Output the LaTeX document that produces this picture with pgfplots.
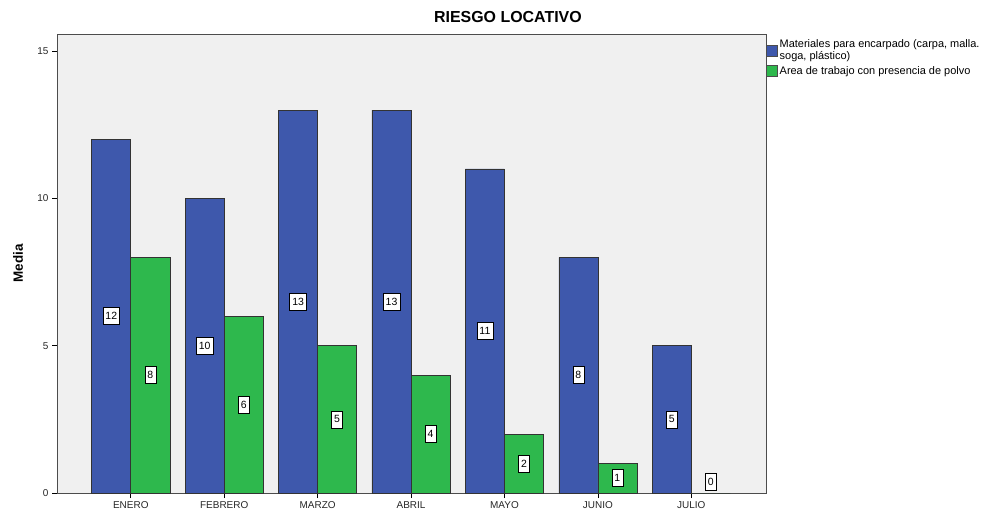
\documentclass[border=0pt]{standalone}
\usepackage{pgfplots}
\pgfplotsset{compat=1.18}
\usepackage{pgfplotstable}
\usepackage{fontspec}
\setmainfont{Liberation Sans}
\definecolor{cblue}{RGB}{62,88,172}
\definecolor{cgreen}{RGB}{46,184,77}
\definecolor{bg}{RGB}{240,240,240}

\pgfplotstableread{
x a b
0 12 8
1 10 6
2 13 5
3 13 4
4 11 2
5 8 1
6 5 0
}\data

\begin{document}
\begin{tikzpicture}
\useasboundingbox (0,0) rectangle (990bp,512bp);
\begin{axis}[
  at={(57bp,19bp)}, anchor=south west,
  scale only axis, width=709bp, height=459bp,
  xmin=-0.79, xmax=6.8, ymin=0, ymax=15.58,
  axis background/.style={fill=bg},
  axis line style={draw=black!70, line width=0.8bp},
  xtick={0,...,6},
  xticklabels={ENERO,FEBRERO,MARZO,ABRIL,MAYO,JUNIO,JULIO},
  ytick={0,5,10,15},
  xtick pos=bottom, ytick pos=left,
  tick align=outside, major tick length=5bp,
  tick style={draw=black, line width=0.6bp},
  /pgf/number format/assume math mode=true,
  tick label style={font=\fontsize{10}{11}\selectfont, text=black!85},
  ylabel={Media},
  ylabel style={font=\fontsize{13.5}{15}\selectfont\bfseries, at={(axis description cs:-0.055,0.5)}, anchor=center, rotate=0},
  title={RIESGO LOCATIVO},
  title style={font=\fontsize{16}{18}\selectfont\bfseries, at={(axis description cs:0.636,1.024)}, anchor=center},
  legend style={at={(axis description cs:1.0,0.992)}, anchor=north west, draw=none, fill=none,
    font=\fontsize{11}{11.5}\selectfont, cells={anchor=west, align=left}, inner sep=0pt,
    row sep=1.5bp},
  legend image code/.code={\draw[#1, draw=black!70, line width=0.5bp] (0bp,-5.5bp) rectangle (11bp,5.5bp);},
  clip=false,
]
\addplot[ybar, bar width=0.418, bar shift=-0.209, fill=cblue, draw=black!80, line width=0.6bp] table[x=x, y=a] {\data};
\addlegendentry{Materiales para encarpado (carpa, malla.\\soga, plástico)}
\addplot[ybar, bar width=0.418, bar shift=0.209, fill=cgreen, draw=black!80, line width=0.6bp] table[x=x, y=b] {\data};
\addlegendentry{Area de trabajo con presencia de polvo}
\addplot[draw=none, mark=none, forget plot, nodes near coords, point meta=explicit,
  nodes near coords align=center,
  every node near coord/.append style={draw=black, fill=white, inner sep=2.6bp, minimum height=17bp, line width=0.6bp, font=\fontsize{10.5}{11}\selectfont, anchor=center}]
  table[x expr=\thisrow{x}-0.209, y expr=\thisrow{a}/2, meta=a] {\data};
\addplot[draw=none, mark=none, forget plot, nodes near coords, point meta=explicit,
  nodes near coords align=center,
  every node near coord/.append style={draw=black, fill=white, inner sep=2.6bp, minimum height=17bp, line width=0.6bp, font=\fontsize{10.5}{11}\selectfont, anchor=center}]
  table[x expr=\thisrow{x}+0.209, y expr={max(\thisrow{b}/2,0.37)}, meta=b] {\data};
\end{axis}
\end{tikzpicture}
\end{document}
